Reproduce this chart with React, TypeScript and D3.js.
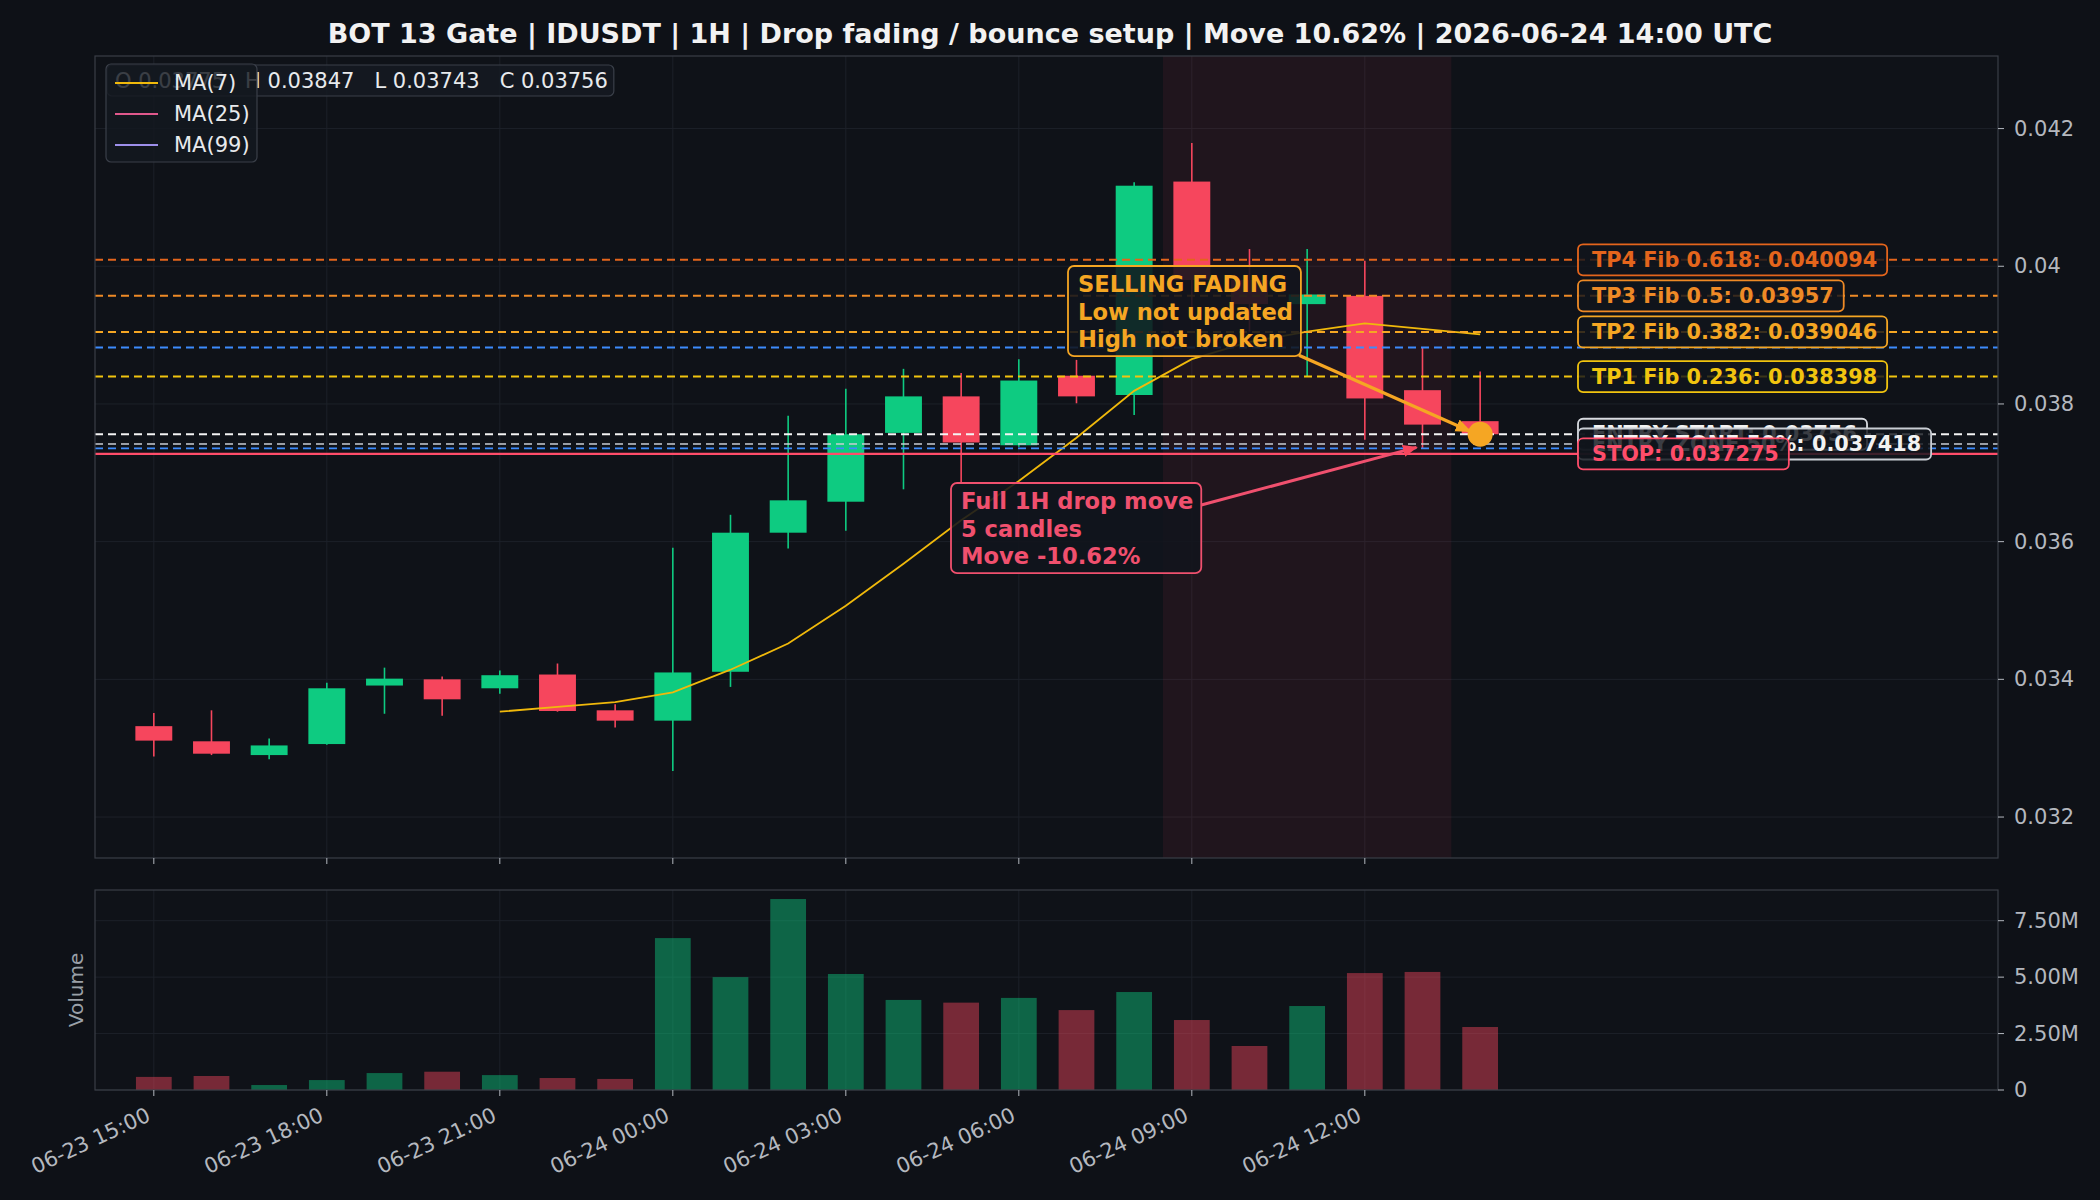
import { useEffect, useRef } from 'react';
import * as d3 from 'd3';

const W = 2100;
const H = 1200;

const titleText = 'BOT 13 Gate | IDUSDT | 1H | Drop fading / bounce setup | Move 10.62% | 2026-06-24 14:00 UTC';

const candleTimes = [
    '06-23 15:00', '06-23 16:00', '06-23 17:00', '06-23 18:00', '06-23 19:00', '06-23 20:00',
    '06-23 21:00', '06-23 22:00', '06-23 23:00', '06-24 00:00', '06-24 01:00', '06-24 02:00',
    '06-24 03:00', '06-24 04:00', '06-24 05:00', '06-24 06:00', '06-24 07:00', '06-24 08:00',
    '06-24 09:00', '06-24 10:00', '06-24 11:00', '06-24 12:00', '06-24 13:00', '06-24 14:00',
];
const opens = [0.03332, 0.03310, 0.03290, 0.03306, 0.03391, 0.03400, 0.03387, 0.03407, 0.03355, 0.03340, 0.03411, 0.03613,
    0.03658, 0.03758, 0.03811, 0.03740, 0.03841, 0.03813, 0.04123, 0.03980, 0.03945, 0.03957, 0.03820, 0.03775];
const highs = [0.03351, 0.03355, 0.03314, 0.03395, 0.03417, 0.03404, 0.03413, 0.03423, 0.03364, 0.03591, 0.03639, 0.03783,
    0.03822, 0.03851, 0.03845, 0.03865, 0.03864, 0.04122, 0.04179, 0.04025, 0.04025, 0.04008, 0.03882, 0.03847];
const lows = [0.03288, 0.03290, 0.03284, 0.03305, 0.03350, 0.03347, 0.03379, 0.03353, 0.03330, 0.03267, 0.03389, 0.03590,
    0.03616, 0.03676, 0.03684, 0.03738, 0.03801, 0.03784, 0.03940, 0.03905, 0.03839, 0.03748, 0.03736, 0.03743];
const closes = [0.03311, 0.03292, 0.03304, 0.03387, 0.03401, 0.03371, 0.03406, 0.03354, 0.03340, 0.03410, 0.03613, 0.03660,
    0.03756, 0.03811, 0.03744, 0.03834, 0.03811, 0.04117, 0.03980, 0.03945, 0.03959, 0.03808, 0.03770, 0.03756];
const volumes = [0.58e6, 0.62e6, 0.22e6, 0.44e6, 0.75e6, 0.81e6, 0.66e6, 0.53e6, 0.49e6, 6.73e6, 5.00e6, 8.46e6,
    5.14e6, 3.99e6, 3.87e6, 4.08e6, 3.54e6, 4.34e6, 3.10e6, 1.95e6, 3.72e6, 5.18e6, 5.23e6, 2.79e6];
const ma7 = [null, null, null, null, null, null, 0.03353, 0.03360, 0.03367, 0.03381, 0.03414, 0.03452,
    0.03507, 0.03568, 0.03631, 0.03688, 0.03751, 0.03819, 0.03865, 0.03890, 0.03905, 0.03917, 0.03909, 0.03901];

const xTickIdx = [0, 3, 6, 9, 12, 15, 18, 21];
const priceTicks = [0.032, 0.034, 0.036, 0.038, 0.04, 0.042];
const priceTickLabels = ['0.032', '0.034', '0.036', '0.038', '0.04', '0.042'];
const volTicks = [0, 2.5e6, 5e6, 7.5e6];
const volTickLabels = ['0', '2.50M', '5.00M', '7.50M'];

const tpLevels = [0.040094, 0.03957, 0.039046, 0.038398];
const tpLabels = ['TP4 Fib 0.618: 0.040094', 'TP3 Fib 0.5: 0.03957', 'TP2 Fib 0.382: 0.039046', 'TP1 Fib 0.236: 0.038398'];
const entryStart = 0.03756;
const entryZone = 0.037418;
const stopLevel = 0.037275;
const swingLow = 0.037355;
const lowerHigh = 0.03882;
const dropSpan = [17.5, 22.5];
const ohlcText = 'O 0.03775   H 0.03847   L 0.03743   C 0.03756';
const legendNames = ['MA(7)', 'MA(25)', 'MA(99)'];
const fadingLines = ['SELLING FADING', 'Low not updated', 'High not broken'];
const dropLines = ['Full 1H drop move', '5 candles', 'Move -10.62%'];

export default function App() {
    const svgRef = useRef<SVGSVGElement | null>(null);

    useEffect(() => {
        if (!svgRef.current) return;
        const svg = d3.select(svgRef.current);
        svg.selectAll('*').remove();

        const font = '"DejaVu Sans", sans-serif';
        const green = '#0ecb81';
        const red = '#f6465d';
        const orange = '#f5a623';
        const gridC = '#1d2129';
        const spineC = '#3a3e47';
        const tickC = '#b4b8bf';

        const left = 95, right = 1998, top = 56, bottom = 858, vTop = 890, vBottom = 1090;
        const x = d3.scaleLinear().domain([-1.02, 31.98]).range([left, right]);
        const y = d3.scaleLinear().domain([0.031405, 0.043054]).range([bottom, top]);
        const yv = d3.scaleLinear().domain([0, 8.86e6]).range([vBottom, vTop]);
        const step = x(1) - x(0);

        svg.append('rect').attr('width', W).attr('height', H).attr('fill', '#0e1117');
        svg.append('rect').attr('x', left).attr('y', top).attr('width', right - left).attr('height', bottom - top).attr('fill', '#0f1218');
        svg.append('rect').attr('x', left).attr('y', vTop).attr('width', right - left).attr('height', vBottom - vTop).attr('fill', '#0f1218');

        const defs = svg.append('defs');
        defs.append('clipPath').attr('id', 'mainclip').append('rect')
            .attr('x', left).attr('y', top).attr('width', right - left).attr('height', bottom - top);
        const mk = (id: string, color: string) => defs.append('marker').attr('id', id)
            .attr('viewBox', '0 0 10 10').attr('refX', 9).attr('refY', 5)
            .attr('markerWidth', 5).attr('markerHeight', 5).attr('orient', 'auto-start-reverse')
            .append('path').attr('d', 'M0,1 L10,5 L0,9 Z').attr('fill', color);
        mk('arrRed', red);
        mk('arrOrange', orange);

        // title
        svg.append('text').attr('x', W / 2).attr('y', 43).attr('text-anchor', 'middle')
            .attr('font-family', font).attr('font-size', 27).attr('font-weight', 'bold').attr('fill', '#f2f2f2')
            .text(titleText);

        // grids
        const main = svg.append('g').attr('clip-path', 'url(#mainclip)');
        xTickIdx.forEach(i => {
            main.append('line').attr('x1', x(i)).attr('x2', x(i)).attr('y1', top).attr('y2', bottom).attr('stroke', gridC);
            svg.append('line').attr('x1', x(i)).attr('x2', x(i)).attr('y1', vTop).attr('y2', vBottom).attr('stroke', gridC);
        });
        priceTicks.forEach(v => {
            main.append('line').attr('x1', left).attr('x2', right).attr('y1', y(v)).attr('y2', y(v)).attr('stroke', gridC);
        });
        volTicks.forEach(v => {
            svg.append('line').attr('x1', left).attr('x2', right).attr('y1', yv(v)).attr('y2', yv(v)).attr('stroke', gridC);
        });

        // drop span shading
        main.append('rect').attr('x', x(dropSpan[0])).attr('width', x(dropSpan[1]) - x(dropSpan[0]))
            .attr('y', top).attr('height', bottom - top).attr('fill', red).attr('fill-opacity', 0.08);

        // candles
        const idx = d3.range(candleTimes.length);
        idx.forEach(i => {
            const up = closes[i] >= opens[i];
            const c = up ? green : red;
            main.append('line').attr('x1', x(i)).attr('x2', x(i)).attr('y1', y(highs[i])).attr('y2', y(lows[i]))
                .attr('stroke', c).attr('stroke-width', 1.6);
            const yt = y(Math.max(opens[i], closes[i]));
            const yb = y(Math.min(opens[i], closes[i]));
            main.append('rect').attr('x', x(i) - step * 0.32).attr('width', step * 0.64)
                .attr('y', yt).attr('height', Math.max(1.5, yb - yt)).attr('fill', c);
        });

        // MA(7)
        const line = d3.line<number | null>()
            .defined(d => d !== null)
            .x((_, i) => x(i))
            .y(d => y(d as number));
        main.append('path').datum(ma7).attr('d', line).attr('fill', 'none')
            .attr('stroke', '#f0b90b').attr('stroke-width', 1.8);

        // level lines
        const tpColors = ['#e4651c', '#ee8a26', '#f5a623', '#f1c40f'];
        const hline = (v: number, color: string, w: number, dash: string | null) => {
            const l = main.append('line').attr('x1', left).attr('x2', right).attr('y1', y(v)).attr('y2', y(v))
                .attr('stroke', color).attr('stroke-width', w);
            if (dash) l.attr('stroke-dasharray', dash);
        };
        tpLevels.forEach((v, i) => hline(v, tpColors[i], 2, '8 5'));
        hline(lowerHigh, '#3d8bfd', 1.8, '8 5');
        hline(entryStart, '#f4f4f4', 2.2, '8 5');
        hline(entryZone, '#c9cdd4', 1.6, '8 5');
        hline(swingLow, '#3d8bfd', 1.8, '8 5');
        hline(stopLevel, '#ff4d6a', 2.2, null);

        // annotation boxes
        const noteBox = (lines: string[], tx: number, ty: number, color: string) => {
            const g = svg.append('g');
            const rect = g.append('rect');
            const t = g.append('text').attr('font-family', font).attr('font-size', 22.6).attr('font-weight', 'bold')
                .attr('fill', color);
            lines.forEach((s, k) => t.append('tspan').attr('x', tx).attr('y', ty + k * 27.6).text(s));
            const bb = (t.node() as SVGTextElement).getBBox();
            rect.attr('x', bb.x - 10).attr('y', bb.y - 5).attr('width', bb.width + 18).attr('height', bb.height + 9)
                .attr('rx', 6).attr('fill', '#11151c').attr('fill-opacity', 0.88)
                .attr('stroke', color).attr('stroke-width', 1.8);
            return bb;
        };
        const fb = noteBox(fadingLines, 1078, 292, orange);
        const db = noteBox(dropLines, 961, 509, '#f0506e');

        // arrows
        svg.append('line').attr('x1', fb.x + fb.width + 6).attr('y1', fb.y + fb.height + 3)
            .attr('x2', x(23) - 10).attr('y2', y(closes[23]) - 3)
            .attr('stroke', orange).attr('stroke-width', 3.2).attr('marker-end', 'url(#arrOrange)');
        svg.append('line').attr('x1', db.x + db.width + 8).attr('y1', db.y + 17)
            .attr('x2', x(22) - 6).attr('y2', y(swingLow) - 1)
            .attr('stroke', '#f0506e').attr('stroke-width', 3).attr('marker-end', 'url(#arrRed)');

        // right-side level labels
        const levelLabel = (v: number, txt: string, color: string, stroke: string) => {
            const g = svg.append('g');
            const rect = g.append('rect');
            const t = g.append('text').attr('x', 1592).attr('y', y(v)).attr('dominant-baseline', 'central')
                .attr('font-family', font).attr('font-size', 20.8).attr('font-weight', 'bold').attr('fill', color).text(txt);
            const w = (t.node() as SVGTextElement).getComputedTextLength();
            rect.attr('x', 1578).attr('y', y(v) - 15.5).attr('width', w + 24).attr('height', 31).attr('rx', 5)
                .attr('fill', '#11151c').attr('fill-opacity', 0.82).attr('stroke', stroke).attr('stroke-width', 1.8);
        };
        tpLevels.forEach((v, i) => levelLabel(v, tpLabels[i], tpColors[i], tpColors[i]));
        levelLabel(entryStart, `ENTRY START: ${entryStart}`, '#f2f2f2', '#d9dce1');
        levelLabel(entryZone, `ENTRY ZONE 50%: ${entryZone}`, '#f2f2f2', '#c9cdd4');
        levelLabel(stopLevel, `STOP: ${stopLevel}`, '#ff4d6a', '#ff4d6a');

        // current price dot
        svg.append('circle').attr('cx', x(23)).attr('cy', y(closes[23])).attr('r', 12.5).attr('fill', orange);

        // volume
        idx.forEach(i => {
            const up = closes[i] >= opens[i];
            svg.append('rect').attr('x', x(i) - step * 0.31).attr('width', step * 0.62)
                .attr('y', yv(volumes[i])).attr('height', vBottom - yv(volumes[i]))
                .attr('fill', up ? green : red).attr('fill-opacity', 0.45);
        });

        // spines
        svg.append('rect').attr('x', left).attr('y', top).attr('width', right - left).attr('height', bottom - top)
            .attr('fill', 'none').attr('stroke', spineC).attr('stroke-width', 1.2);
        svg.append('rect').attr('x', left).attr('y', vTop).attr('width', right - left).attr('height', vBottom - vTop)
            .attr('fill', 'none').attr('stroke', spineC).attr('stroke-width', 1.2);

        // y ticks
        priceTicks.forEach((v, i) => {
            svg.append('line').attr('x1', right).attr('x2', right + 6).attr('y1', y(v)).attr('y2', y(v)).attr('stroke', tickC);
            svg.append('text').attr('x', right + 16).attr('y', y(v)).attr('dominant-baseline', 'central')
                .attr('font-family', font).attr('font-size', 21).attr('fill', tickC).text(priceTickLabels[i]);
        });
        volTicks.forEach((v, i) => {
            svg.append('line').attr('x1', right).attr('x2', right + 6).attr('y1', yv(v)).attr('y2', yv(v)).attr('stroke', tickC);
            svg.append('text').attr('x', right + 16).attr('y', yv(v)).attr('dominant-baseline', 'central')
                .attr('font-family', font).attr('font-size', 21).attr('fill', tickC).text(volTickLabels[i]);
        });

        // x ticks
        xTickIdx.forEach(i => {
            svg.append('line').attr('x1', x(i)).attr('x2', x(i)).attr('y1', bottom).attr('y2', bottom + 6).attr('stroke', tickC);
            svg.append('line').attr('x1', x(i)).attr('x2', x(i)).attr('y1', vBottom).attr('y2', vBottom + 6).attr('stroke', tickC);
            svg.append('text').attr('transform', `translate(${x(i) - 2},${vBottom + 30}) rotate(-25)`)
                .attr('text-anchor', 'end').attr('font-family', font).attr('font-size', 21).attr('fill', tickC)
                .text(candleTimes[i]);
        });

        svg.append('text').attr('transform', `translate(76,${(vTop + vBottom) / 2}) rotate(-90)`)
            .attr('text-anchor', 'middle').attr('dominant-baseline', 'central')
            .attr('font-family', font).attr('font-size', 20).attr('fill', '#9aa0a8').text('Volume');

        // OHLC box + legend
        const og = svg.append('g');
        const orect = og.append('rect');
        const ot = og.append('text').attr('x', 115).attr('y', 81).attr('dominant-baseline', 'central')
            .style('white-space', 'pre').attr('font-family', font).attr('font-size', 21).attr('fill', '#e8eaed').text(ohlcText);
        const ow = (ot.node() as SVGTextElement).getComputedTextLength();
        orect.attr('x', 107).attr('y', 65).attr('width', ow + 14).attr('height', 31).attr('rx', 5)
            .attr('fill', '#151a22').attr('fill-opacity', 0.85).attr('stroke', '#3a3f49').attr('stroke-width', 1.2);

        const legendColors = ['#f0b90b', '#e0588c', '#9d8fea'];
        svg.append('rect').attr('x', 106).attr('y', 64).attr('width', 151).attr('height', 98).attr('rx', 5)
            .attr('fill', '#141920').attr('fill-opacity', 0.82).attr('stroke', '#3a3f49').attr('stroke-width', 1.2);
        legendNames.forEach((n, i) => {
            const ly = 83 + i * 31;
            svg.append('line').attr('x1', 115).attr('x2', 158).attr('y1', ly).attr('y2', ly)
                .attr('stroke', legendColors[i]).attr('stroke-width', 2);
            svg.append('text').attr('x', 174).attr('y', ly).attr('dominant-baseline', 'central')
                .attr('font-family', font).attr('font-size', 21).attr('fill', '#e8eaed').text(n);
        });
    }, []);

    return (
        <div style={{ position: 'fixed', left: 0, top: 0 }}>
            <svg ref={svgRef} width={W} height={H} style={{ display: 'block' }}></svg>
        </div>
    );
}
